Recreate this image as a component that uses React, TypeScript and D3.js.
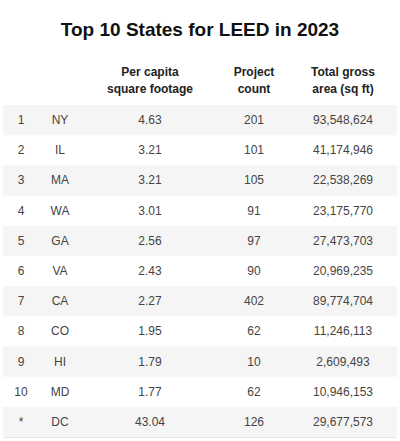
import React, { useEffect, useRef } from "react";
import * as d3 from "d3";

const ranks = ["1", "2", "3", "4", "5", "6", "7", "8", "9", "10", "*"];
const states = ["NY", "IL", "MA", "WA", "GA", "VA", "CA", "CO", "HI", "MD", "DC"];
const perCapita = [4.63, 3.21, 3.21, 3.01, 2.56, 2.43, 2.27, 1.95, 1.79, 1.77, 43.04];
const projectCount = [201, 101, 105, 91, 97, 90, 402, 62, 10, 62, 126];
const grossArea = [
  93548624, 41174946, 22538269, 23175770, 27473703, 20969235, 89774704, 11246113, 2609493,
  10946153, 29677573,
];
const headers = [
  ["", ""],
  ["", ""],
  ["Per capita", "square footage"],
  ["Project", "count"],
  ["Total gross", "area (sq ft)"],
];

const App: React.FC = () => {
  const svgRef = useRef<SVGSVGElement>(null);

  useEffect(() => {
    const width = 400;
    const height = 441;
    const font = "'Liberation Sans', Arial, Helvetica, sans-serif";

    const svg = d3.select(svgRef.current).attr("width", width).attr("height", height);
    svg.selectAll("*").remove();

    // column centers
    const colX = d3.scaleOrdinal<number, number>().domain([0, 1, 2, 3, 4]).range([21, 60, 150, 254, 343]);

    const y = d3
      .scaleBand<number>()
      .domain(d3.range(ranks.length))
      .range([105, 437])
      .paddingInner(0);

    svg
      .append("text")
      .attr("x", width / 2)
      .attr("y", 36)
      .attr("text-anchor", "middle")
      .style("font-family", font)
      .style("font-size", "19px")
      .style("font-weight", "bold")
      .style("fill", "#111")
      .text("Top 10 States for LEED in 2023");

    // header
    const head = svg.append("g");
    headers.forEach((h, i) => {
      h.forEach((line, j) => {
        head
          .append("text")
          .attr("x", colX(i))
          .attr("y", 76 + j * 17)
          .attr("text-anchor", "middle")
          .style("font-family", font)
          .style("font-size", "12px")
          .style("font-weight", "bold")
          .style("fill", "#222")
          .text(line);
      });
    });

    // stripes
    svg
      .append("g")
      .selectAll("rect")
      .data(d3.range(ranks.length).filter(i => i % 2 === 0))
      .enter()
      .append("rect")
      .attr("x", 3)
      .attr("width", width - 6)
      .attr("y", i => y(i) as number)
      .attr("height", y.bandwidth())
      .style("fill", "#f5f5f5");

    svg
      .append("line")
      .attr("x1", 3)
      .attr("x2", width - 3)
      .attr("y1", 437.5)
      .attr("y2", 437.5)
      .style("stroke", "#e6e6e6");

    const fmt = d3.format(",");
    const rows = svg
      .append("g")
      .selectAll("g")
      .data(d3.range(ranks.length))
      .enter()
      .append("g")
      .attr("transform", i => `translate(0, ${(y(i) as number) + y.bandwidth() / 2 + 4})`);

    const cells = (i: number) => [
      ranks[i],
      states[i],
      perCapita[i].toFixed(2),
      String(projectCount[i]),
      fmt(grossArea[i]),
    ];

    rows
      .selectAll("text")
      .data(i => cells(i))
      .enter()
      .append("text")
      .attr("x", (_, k) => colX(k))
      .attr("text-anchor", "middle")
      .style("font-family", font)
      .style("font-size", "12px")
      .style("fill", "#444")
      .text(d => d);
  }, []);

  return (
    <div style={{ position: "absolute", left: 0, top: 0, background: "#fff" }}>
      <svg ref={svgRef}></svg>
    </div>
  );
};

export default App;
